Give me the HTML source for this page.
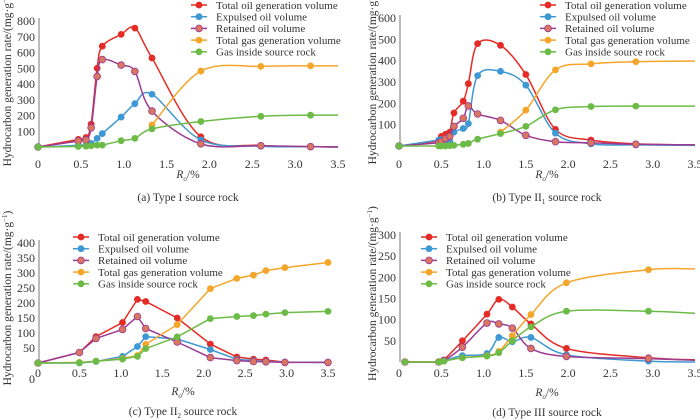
<!DOCTYPE html>
<html><head><meta charset="utf-8">
<style>
html,body{margin:0;padding:0;background:#fff;}
svg{display:block;font-family:"Liberation Serif",serif;}
</style></head>
<body>
<svg id="chart" width="700" height="420" viewBox="0 0 700 420"></svg>
<script>
// ---- data ----
const seriesNames = ["Total oil generation volume","Expulsed oil volume","Retained oil volume","Total gas generation volume","Gas inside source rock"];
const xTicks = [0,0.5,1.0,1.5,2.0,2.5,3.0,3.5];
const xTickLabels = ["0","0.5","1.0","1.5","2.0","2.5","3.0","3.5"];

const aX_oil = [0,0.47,0.56,0.62,0.69,0.75,0.97,1.13,1.33,1.9,2.6,3.18,3.5];
const aTotalOil = [0,48,60,145,500,640,715,755,565,65,10,2,0];
const aExpulsed = [0,10,12,22,55,85,190,275,335,45,5,2,0];
const aRetained = [0,38,45,122,448,555,520,480,228,20,8,2,0];
const aX_gas = [1.33,1.9,2.6,3.18,3.5];
const aTotalGas = [140,482,512,515,515];
const aGasInside = [0,3,5,8,12,12,40,55,115,162,195,202,202];
const aYTicks = [100,200,300,400,500,600,700,800];

const bX = [0,0.47,0.5,0.55,0.6,0.65,0.76,0.82,0.93,1.2,1.5,1.85,2.27,2.8,3.5];
const bTotalOil = [0,25,45,55,65,155,210,292,480,472,335,78,28,10,5];
const bExpulsed = [0,28,30,22,22,65,82,105,330,350,285,60,10,5,3];
const bRetained = [0,15,20,35,45,92,130,188,150,120,50,20,15,8,5];
const bX_gas = [1.2,1.5,1.85,2.27,2.8,3.5];
const bTotalGas = [65,168,357,385,395,398];
const bGasInside = [0,0,0,0,2,3,8,12,32,58,92,170,185,187,187];
const bYTicks = [100,200,300,400,500,600];

const cX = [0,0.5,0.7,1.02,1.2,1.3,1.68,2.08,2.4,2.6,2.75,2.98,3.5];
const cTotalOil = [0,35,88,135,212,205,150,63,20,13,10,3,2];
const cExpulsed = [0,0,5,22,55,88,80,45,12,8,5,3,2];
const cRetained = [0,35,82,112,155,115,70,18,8,5,4,2,2];
const cTotalGas = [0,2,6,15,25,62,128,248,282,293,308,318,335];
const cGasInside = [0,1,6,13,22,48,87,148,155,158,163,168,172];
const cYTicks = [50,100,150,200,250,300,350,400];

const dX = [0.07,0.47,0.53,0.75,1.04,1.18,1.34,1.56,1.98,2.95,3.5];
const dTotalOil = [0,0,5,50,113,148,130,90,32,10,5];
const dExpulsed = [0,0,3,15,20,58,48,58,17,2,0];
const dRetained = [0,0,3,35,92,90,80,32,13,8,4];
const dTotalGas = [0,0,2,10,15,25,62,112,187,218,220];
const dGasInside = [0,0,2,10,14,22,50,83,120,120,115];
const dYTicks = [50,100,150,200,250,300];

const colors = ["#e52b25","#3e98d3","#9b3c92","#f5a52a","#6cbb46"];
const mfill = ["#e52b25","#3e98d3","#d9765f","#f5a52a","#6cbb46"];
const NS="http://www.w3.org/2000/svg";
const svg=document.getElementById('chart');
function el(tag,attrs,parent){const e=document.createElementNS(NS,tag);for(const k in attrs)e.setAttribute(k,attrs[k]);(parent||svg).appendChild(e);return e;}

function smoothPath(pts){
  if(pts.length<2)return "";
  let d="M"+pts[0][0]+","+pts[0][1];
  for(let i=0;i<pts.length-1;i++){
    const p0=pts[Math.max(0,i-1)],p1=pts[i],p2=pts[i+1],p3=pts[Math.min(pts.length-1,i+2)];
    const t=6;
    const c1=[p1[0]+(p2[0]-p0[0])/t,p1[1]+(p2[1]-p0[1])/t];
    const c2=[p2[0]-(p3[0]-p1[0])/t,p2[1]-(p3[1]-p1[1])/t];
    d+=" C"+c1[0]+","+c1[1]+" "+c2[0]+","+c2[1]+" "+p2[0]+","+p2[1];
  }
  return d;
}
function linePath(pts){return pts.map((p,i)=>(i?"L":"M")+p[0]+","+p[1]).join(" ");}

function drawPanel(cfg){
  const g=el('g',{});
  
  
  const sx=v=>cfg.x0+(cfg.x1-cfg.x0)*v/3.5;
  const sy=v=>cfg.y0-(cfg.y0-cfg.ytop)*v/cfg.ymax;
  const ax=el('line',{x1:cfg.x0+1,x2:cfg.x0+1,y1:cfg.ytop-3,y2:cfg.y0,stroke:"#555","stroke-width":0.8},g);
  
  
  cfg.yTicks.forEach(v=>{
    const t=el('text',{x:cfg.x0-3,y:sy(v)+4,"text-anchor":"end","font-size":12,fill:"#333"},g);
    t.textContent=String(v);
    
    
  });
  if(cfg.zeroY){const t=el('text',{x:cfg.x0-3,y:cfg.zeroY,"text-anchor":"end","font-size":12,fill:"#333"},g);t.textContent="0";
    
    }
  xTicks.forEach((v,i)=>{
    const t=el('text',{x:sx(v),y:cfg.tickY,"text-anchor":"middle","font-size":12,fill:"#333"},g);
    t.textContent=xTickLabels[i];
    
    
  });
  const xt=el('text',{x:(cfg.x0+cfg.x1)/2,y:cfg.roY,"text-anchor":"middle","font-size":11.5,fill:"#333"},g);
  xt.innerHTML='<tspan font-style="italic">R</tspan><tspan font-style="italic" font-size="7" dy="3">o</tspan><tspan dy="-3">/%</tspan>';
  
  
  const yt=el('text',{x:0,y:0,transform:`translate(${cfg.yTitleX},${(cfg.y0+cfg.ytop)/2-5}) rotate(-90)`,"text-anchor":"middle","font-size":11.5,fill:"#333"},g);
  yt.innerHTML='Hydrocarbon generation rate/(mg·g<tspan font-size="7" dy="-4">−1</tspan><tspan dy="4">)</tspan>';
  
  
  const cap=el('text',{x:(cfg.x0+cfg.x1)/2,y:cfg.capY,"text-anchor":"middle","font-size":11.5,fill:"#333"},g);
  cap.innerHTML=cfg.caption;
  
  
  cfg.series.forEach((s,k)=>{
    const pts=s.x.map((xv,i)=>[sx(xv),sy(s.y[i])]);
    const p=el('path',{d:cfg.smooth?smoothPath(pts):linePath(pts),fill:"none",stroke:colors[s.c],"stroke-width":1.5},g);
    
    
    const n=cfg.markLast?pts.length:pts.length-1;
    for(let i=0;i<n;i++){
      const m=el('circle',{cx:pts[i][0],cy:pts[i][1],r:3.4,fill:mfill[s.c],stroke:s.c===2?"#9b3c92":"none","stroke-width":0.8},g);
      
      
    }
  });
  seriesNames.forEach((nm,i)=>{
    const y=cfg.legY+i*11.7;
    const lg=el('g',{},g);
    
    
    el('line',{x1:cfg.legX,x2:cfg.legX+16,y1:y,y2:y,stroke:colors[i],"stroke-width":1.5},lg);
    el('circle',{cx:cfg.legX+8,cy:y,r:3.4,fill:mfill[i],stroke:i===2?"#9b3c92":"none","stroke-width":0.8},lg);
    const t=el('text',{x:cfg.legX+25,y:y+3.8,"font-size":11,fill:"#333"},lg);
    t.textContent=nm;
  });
}

drawPanel({name:"panel-a",x0:38,x1:338,y0:147,ytop:21,ymax:800,yTicks:aYTicks,tickY:168,roY:178,capY:201,yTitleX:11,
  caption:"(a) Type I source rock",legX:191,legY:5,smooth:true,markLast:false,
  series:[{x:aX_oil,y:aTotalOil,c:0},{x:aX_oil,y:aExpulsed,c:1},{x:aX_oil,y:aRetained,c:2},{x:aX_gas,y:aTotalGas,c:3},{x:aX_oil,y:aGasInside,c:4}]});
drawPanel({name:"panel-b",x0:399,x1:695,y0:146,ytop:18,ymax:600,yTicks:bYTicks,tickY:168,roY:178,capY:201,yTitleX:376,
  caption:"(b) Type II<tspan font-size=\"7\" dy=\"3\">1</tspan><tspan dy=\"-3\"> source rock</tspan>",legX:540,legY:5,smooth:true,markLast:false,
  series:[{x:bX,y:bTotalOil,c:0},{x:bX,y:bExpulsed,c:1},{x:bX,y:bRetained,c:2},{x:bX_gas,y:bTotalGas,c:3},{x:bX,y:bGasInside,c:4}]});
drawPanel({name:"panel-c",x0:38,x1:328,y0:363,ytop:243,ymax:400,yTicks:cYTicks,zeroY:383,tickY:377,roY:395,capY:415,yTitleX:11,
  caption:"(c) Type II<tspan font-size=\"7\" dy=\"3\">2</tspan><tspan dy=\"-3\"> source rock</tspan>",legX:73,legY:237,smooth:false,markLast:true,
  series:[{x:cX,y:cTotalOil,c:0},{x:cX,y:cExpulsed,c:1},{x:cX,y:cRetained,c:2},{x:cX,y:cTotalGas,c:3},{x:cX,y:cGasInside,c:4}]});
drawPanel({name:"panel-d",x0:399,x1:695,y0:362,ytop:235,ymax:300,yTicks:dYTicks,tickY:377,roY:396,capY:416,yTitleX:376,
  caption:"(d) Type III source rock",legX:421,legY:237,smooth:true,markLast:false,
  series:[{x:dX,y:dTotalOil,c:0},{x:dX,y:dExpulsed,c:1},{x:dX,y:dRetained,c:2},{x:dX,y:dTotalGas,c:3},{x:dX,y:dGasInside,c:4}]});
</script>
</body></html>
